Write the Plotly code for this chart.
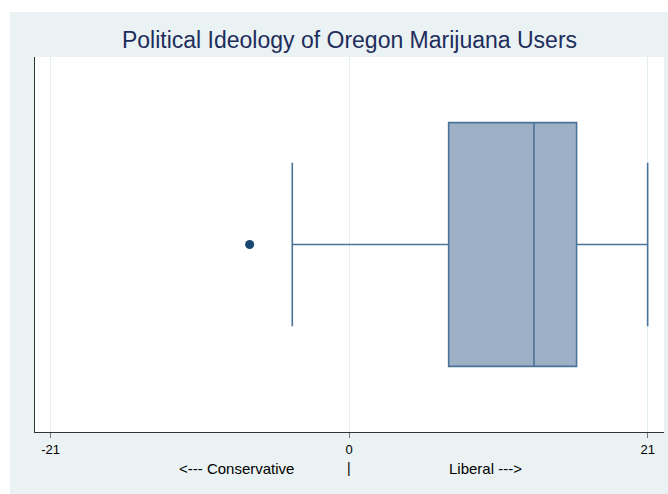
import plotly.graph_objects as go

# Data (box summary)
q1 = [7]
median = [13]
q3 = [16]
lower_fence = [-4]
upper_fence = [21]
outliers = [-7]
tick_vals = [-21, 0, 21]
tick_text = ["-21", "0", "21"]
group_pos = [0.5]

NAVY = "#1A476F"
BOX_LINE = "#4A7399"
BOX_FILL = "rgba(157,176,197,1)"
BG = "#EAF2F3"
FONT = "Liberation Sans, Arial, Helvetica, sans-serif"

fig = go.Figure()
fig.add_trace(go.Box(
    y=group_pos, q1=q1, median=median, q3=q3,
    lowerfence=lower_fence, upperfence=upper_fence,
    orientation="h", width=0.65, whiskerwidth=0.67,
    fillcolor=BOX_FILL, line=dict(color=BOX_LINE, width=1.6),
    boxpoints=False, showlegend=False, hoverinfo="skip",
))
fig.add_trace(go.Scatter(
    x=outliers, y=group_pos * len(outliers), mode="markers",
    marker=dict(color=NAVY, size=9), showlegend=False, hoverinfo="skip",
))

fig.update_layout(
    width=668, height=494,
    margin=dict(l=35, r=4, t=57, b=62),
    paper_bgcolor="white",
    plot_bgcolor="white",
    title=dict(text="Political Ideology of Oregon Marijuana Users",
               x=0.5, xanchor="center", xref="paper",
               y=1 - 40 / 494, yanchor="middle",
               font=dict(family=FONT, size=23, color="#1E2D5C")),
    shapes=[
        dict(type="rect", xref="paper", yref="paper", layer="below",
             x0=-0.04, x1=1.02, y0=-0.2, y1=1.12,
             fillcolor=BG, line=dict(width=0)),
        dict(type="rect", xref="paper", yref="paper", layer="below",
             x0=0, x1=1, y0=0, y1=1,
             fillcolor="white", line=dict(width=0)),
    ],
    xaxis=dict(
        range=[-22.1, 22.15], tickmode="array", tickvals=tick_vals, ticktext=tick_text,
        ticks="outside", ticklen=5, tickcolor="#777", tickwidth=1,
        showgrid=True, gridcolor="#E4EDEF", gridwidth=1, zeroline=False,
        showline=True, linecolor="#333", linewidth=1,
        tickfont=dict(family=FONT, size=13, color="black"),
    ),
    yaxis=dict(
        range=[0, 1], showticklabels=False, showgrid=False, zeroline=False,
        showline=True, linecolor="#333", linewidth=1, ticks="",
    ),
    annotations=[
        dict(text="<--- Conservative", x=-7.9, xref="x", y=-0.096, yref="paper",
             showarrow=False, yanchor="middle",
             font=dict(family=FONT, size=15, color="black")),
        dict(text="|", x=0, xref="x", y=-0.096, yref="paper",
             showarrow=False, yanchor="middle",
             font=dict(family=FONT, size=14, color="black")),
        dict(text="Liberal --->", x=9.6, xref="x", y=-0.096, yref="paper",
             showarrow=False, yanchor="middle",
             font=dict(family=FONT, size=15, color="black")),
    ],
)

fig.write_html("out.html")
